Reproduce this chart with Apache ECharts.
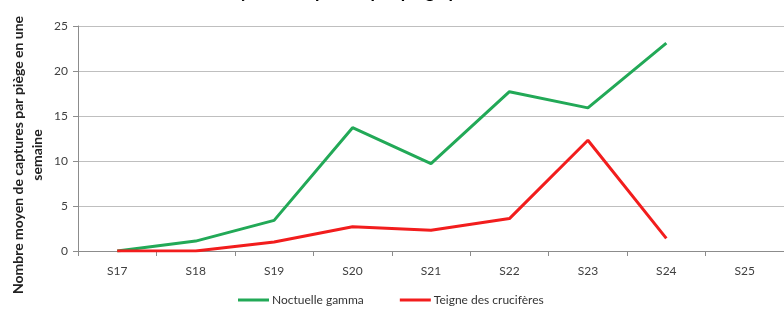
<!DOCTYPE html>
<html>
<head>
<meta charset="utf-8">
<script src="https://cdn.jsdelivr.net/npm/echarts@6/dist/echarts.min.js"></script>
<style>
  html, body { margin: 0; padding: 0; background: #fff; }
  #graf { width: 784px; height: 309px; }
</style>
</head>
<body>
<div id="graf"></div>
<script>
// Semaines et captures moyennes par piège
const semaines = ['S17', 'S18', 'S19', 'S20', 'S21', 'S22', 'S23', 'S24', 'S25'];
const noctuelleGamma = [0, 1.1, 3.4, 13.7, 9.7, 17.7, 15.9, 23.1, null];
const teigneCruciferes = [0, 0, 1.0, 2.7, 2.3, 3.6, 12.3, 1.4, null];
const ticksY = [0, 5, 10, 15, 20, 25];

const police = 'Lato, "Open Sans", sans-serif';

const graf = echarts.init(document.getElementById('graf'));

graf.setOption({
    animation: false,
    title: {
        text: 'Nombre moyen de captures par piège par semaine',
        left: 140,
        top: -22,
        textStyle: { fontFamily: police, fontSize: 18, fontWeight: 'bold', color: '#000' }
    },
    grid: { left: 78, top: 26, width: 711, height: 225 },
    legend: {
        bottom: -2,
        left: 233,
        icon: 'rect',
        itemWidth: 31,
        itemHeight: 3,
        itemGap: 36,
        textStyle: { fontFamily: police, fontSize: 12, color: '#333', padding: [0, 0, 0, -2] },
        data: ['Noctuelle gamma', 'Teigne des crucifères']
    },
    xAxis: {
        type: 'category',
        data: semaines,
        boundaryGap: true,
        axisLine: { lineStyle: { color: '#8c8c8c' } },
        axisTick: { show: true, length: 5, lineStyle: { color: '#8c8c8c' } },
        axisLabel: { fontFamily: police, fontSize: 12, color: '#404040', margin: 14 }
    },
    yAxis: {
        type: 'value',
        min: ticksY[0],
        max: ticksY[ticksY.length - 1],
        interval: 5,
        axisLine: { show: true, lineStyle: { color: '#8c8c8c' } },
        axisTick: { show: true, length: 5, lineStyle: { color: '#8c8c8c' } },
        splitLine: { lineStyle: { color: '#bfbfbf' } },
        axisLabel: { fontFamily: police, fontSize: 12, color: '#404040', margin: 10 }
    },
    graphic: [
        {
            type: 'text',
            x: 18, y: 155,
            rotation: Math.PI / 2,
            style: {
                text: 'Nombre moyen de captures par piège en une',
                font: 'bold 14px ' + police,
                fill: '#222',
                align: 'center',
                verticalAlign: 'middle'
            }
        },
        {
            type: 'text',
            x: 37, y: 155,
            rotation: Math.PI / 2,
            style: {
                text: 'semaine',
                font: 'bold 14px ' + police,
                fill: '#222',
                align: 'center',
                verticalAlign: 'middle'
            }
        }
    ],
    series: [
        {
            name: 'Noctuelle gamma',
            type: 'line',
            data: noctuelleGamma,
            symbol: 'none',
            itemStyle: { color: '#22a957' },
            lineStyle: { color: '#22a957', width: 3 }
        },
        {
            name: 'Teigne des crucifères',
            type: 'line',
            data: teigneCruciferes,
            symbol: 'none',
            itemStyle: { color: '#f21d1d' },
            lineStyle: { color: '#f21d1d', width: 3 }
        }
    ]
});
</script>
</body>
</html>
